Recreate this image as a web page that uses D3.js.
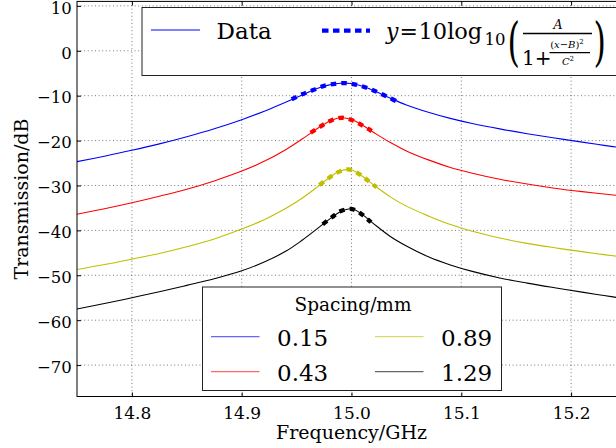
<!DOCTYPE html>
<html><head><meta charset="utf-8">
<script src="https://cdn.jsdelivr.net/npm/d3@7"></script>
<style>
body{margin:0;background:#fff}
svg{display:block}
text{font-family:"DejaVu Serif",serif;fill:#000}
</style>
</head><body>
<svg id="chart" width="616" height="448"></svg>
<script>
// ---------- data ----------
const freq = [14.75, 14.775, 14.80, 14.825, 14.85, 14.875, 14.90, 14.92, 14.94, 14.955, 14.97, 14.98, 14.99, 15.00, 15.01, 15.02, 15.035, 15.05, 15.07, 15.09, 15.11, 15.135, 15.16, 15.185, 15.21, 15.23, 15.25];
const s015 = [-24.7, -23.48, -22.17, -20.74, -19.15, -17.37, -15.34, -13.5, -11.45, -9.84, -8.3, -7.6, -7.24, -7.28, -7.91, -8.87, -10.53, -12.06, -13.67, -15.05, -16.2, -17.4, -18.46, -19.43, -20.34, -21.07, -21.75];
const s043 = [-36.4, -35.19, -33.85, -32.39, -30.82, -28.98, -26.8, -24.68, -22.02, -19.66, -17.14, -15.69, -14.92, -15.29, -16.6, -18.16, -20.39, -22.3, -24.3, -25.98, -27.26, -28.6, -29.67, -30.6, -31.37, -31.9, -32.4];
const s089 = [-48.7, -47.61, -46.4, -45.14, -43.65, -41.9, -39.7, -37.7, -35.14, -32.85, -30.13, -28.22, -26.74, -26.55, -27.96, -29.85, -32.48, -34.6, -36.78, -38.7, -40.19, -41.68, -42.9, -43.87, -44.74, -45.4, -46.01];
const s129 = [-57.5, -56.3, -55.0, -53.68, -52.25, -50.78, -49.0, -47.1, -44.67, -42.2, -39.4, -37.49, -35.84, -35.2, -36.5, -38.49, -41.29, -43.47, -45.88, -47.69, -49.13, -50.59, -51.74, -52.77, -53.75, -54.52, -55.24];

// Lorentzian fit curves (thick dotted), read over their plotted range
const fit015X = [14.9455, 14.955, 14.965, 14.975, 14.985, 14.995, 15.005, 15.015, 15.025, 15.034, 15.043];
const fit015Y = [-10.8, -9.7, -8.75, -7.8, -7.35, -7.22, -7.6, -8.35, -9.35, -10.4, -11.5];
const fit043X = [14.9628, 14.9713, 14.9804, 14.9904, 15.0002, 15.0093, 15.0184];
const fit043Y = [-18.26, -16.93, -15.66, -14.92, -15.43, -16.55, -17.88];
const fit089X = [14.9707, 14.9789, 14.9874, 14.9971, 15.0071, 15.0153, 15.023];
const fit089Y = [-29.9, -28.42, -27.08, -26.41, -27.46, -28.95, -30.42];
const fit129X = [14.9738, 14.982, 14.9904, 15.0007, 15.0102, 15.0178];
const fit129Y = [-38.66, -37.1, -35.7, -35.26, -36.59, -38.2];

const spacingLabels = ["0.15", "0.43", "0.89", "1.29"];
const seriesColors = ["#0000ff", "#ff0000", "#bfbf00", "#000000"];
const xTicks = [14.8, 14.9, 15.0, 15.1, 15.2];
const yTicks = [10, 0, -10, -20, -30, -40, -50, -60, -70];

// ---------- layout ----------
const svg = d3.select("#chart");
const L = 77, R = 626, T = 1.4, B = 396.5;
const x = d3.scaleLinear([14.75, 15.25], [L, R]);
const y = d3.scaleLinear([-77, 11], [B, T]);

svg.append("defs").append("clipPath").attr("id", "clip")
  .append("rect").attr("x", L).attr("y", T).attr("width", R - L).attr("height", B - T);

// grid
const grid = svg.append("g").attr("stroke", "#000").attr("stroke-width", 0.7)
  .attr("stroke-dasharray", "1,2.6").attr("opacity", 0.75);
grid.selectAll(".gx").data(xTicks).join("line")
  .attr("x1", d => x(d)).attr("x2", d => x(d)).attr("y1", T).attr("y2", B);
grid.selectAll(".gy").data(yTicks).join("line")
  .attr("x1", L).attr("x2", R).attr("y1", d => y(d)).attr("y2", d => y(d));

// curves
const dataSeries = [s015, s043, s089, s129];
const fits = [[fit015X, fit015Y], [fit043X, fit043Y], [fit089X, fit089Y], [fit129X, fit129Y]];
const line = d3.line().x(d => x(d[0])).y(d => y(d[1])).curve(d3.curveCatmullRom.alpha(0.5));
const plot = svg.append("g").attr("clip-path", "url(#clip)");
dataSeries.forEach((vals, i) => {
  plot.append("path").datum(freq.map((f, k) => [f, vals[k]]))
    .attr("d", line).attr("fill", "none").attr("stroke", seriesColors[i]).attr("stroke-width", 1.1);
});
fits.forEach(([fx, fy], i) => {
  plot.append("path").datum(fx.map((f, k) => [f, fy[k]]))
    .attr("d", line).attr("fill", "none").attr("stroke", seriesColors[i])
    .attr("stroke-width", 4.3).attr("stroke-dasharray", "5.5,5");
});

// axes (inward ticks)
const ax = svg.append("g").attr("class", "axes");
const yAxis = ax.append("g").attr("transform", `translate(${L},0)`)
  .call(d3.axisLeft(y).tickValues(yTicks).tickFormat(d3.format("d")).tickSize(-4).tickSizeOuter(0).tickPadding(5.3));
const xAxis = ax.append("g").attr("transform", `translate(0,${B})`)
  .call(d3.axisBottom(x).tickValues(xTicks).tickFormat(d3.format(".1f")).tickSize(-4).tickSizeOuter(0).tickPadding(10));
const xTop = ax.append("g").attr("transform", `translate(0,${T})`)
  .call(d3.axisTop(x).tickValues(xTicks).tickFormat("").tickSize(-4).tickSizeOuter(0));
[yAxis, xAxis, xTop].forEach(g => {
  g.selectAll(".domain").remove();
  g.selectAll("line").attr("stroke", "#000").attr("stroke-width", 1);
  g.selectAll("text").attr("font-family", "DejaVu Serif").attr("font-size", 17).attr("fill", "#000");
});
yAxis.selectAll("text").attr("font-size", 16.5).attr("dy", "0.44em");
// frame
svg.append("rect").attr("x", L).attr("y", T).attr("width", R - L).attr("height", B - T)
  .attr("fill", "none").attr("stroke", "#000").attr("stroke-width", 1);

// axis labels
svg.append("text").attr("x", 351.5).attr("y", 439).attr("text-anchor", "middle")
  .attr("font-size", 19).text("Frequency/GHz");
svg.append("text").attr("transform", "translate(28,199) rotate(-90)").attr("text-anchor", "middle")
  .attr("font-size", 19).text("Transmission/dB");

// ---------- top legend ----------
const lg1 = svg.append("g");
lg1.append("rect").attr("x", 142).attr("y", 7.5).attr("width", 500).attr("height", 68)
  .attr("fill", "#fff").attr("stroke", "#222").attr("stroke-width", 1);
lg1.append("line").attr("x1", 151).attr("x2", 200).attr("y1", 30).attr("y2", 30)
  .attr("stroke", seriesColors[0]).attr("stroke-width", 1.1);
lg1.append("text").attr("x", 216.5).attr("y", 39).attr("font-size", 23).text("Data");
lg1.append("line").attr("x1", 322).attr("x2", 370).attr("y1", 30.7).attr("y2", 30.7)
  .attr("stroke", seriesColors[0]).attr("stroke-width", 4.3).attr("stroke-dasharray", "6.5,4.5");
// formula  y = 10 log10( A / (1 + (x-B)^2 / C^2) )
const fm = lg1.append("g");
fm.append("text").attr("x", 386).attr("y", 39).attr("font-size", 22).attr("font-style", "italic").text("y");
fm.append("text").attr("x", 399.5).attr("y", 39).attr("font-size", 22).text("=");
fm.append("text").attr("x", 418.5).attr("y", 39).attr("font-size", 22.5).text("10log");
fm.append("text").attr("x", 484.5).attr("y", 45).attr("font-size", 16.5).text("10");
fm.append("text").attr("transform", "translate(507.5,60) scale(0.6,1)").attr("font-size", 53).text("(");
fm.append("text").attr("transform", "translate(593.5,60) scale(0.6,1)").attr("font-size", 53).text(")");
fm.append("text").attr("x", 558).attr("y", 29).attr("font-size", 12.5).attr("font-style", "italic")
  .attr("text-anchor", "middle").text("A");
fm.append("line").attr("x1", 523).attr("x2", 592).attr("y1", 33.5).attr("y2", 33.5)
  .attr("stroke", "#000").attr("stroke-width", 1.4);
fm.append("text").attr("x", 522).attr("y", 65).attr("font-size", 20).text("1+");
const num = fm.append("text").attr("x", 567).attr("y", 47.5).attr("font-size", 10).attr("text-anchor", "middle");
num.append("tspan").text("(");
num.append("tspan").attr("font-style", "italic").text("x");
num.append("tspan").text("−");
num.append("tspan").attr("font-style", "italic").text("B");
num.append("tspan").text(")");
num.append("tspan").attr("font-size", 7).attr("dy", -4).text("2");
fm.append("line").attr("x1", 549.5).attr("x2", 590).attr("y1", 52.7).attr("y2", 52.7)
  .attr("stroke", "#000").attr("stroke-width", 1.2);
const den = fm.append("text").attr("x", 568).attr("y", 65).attr("font-size", 10).attr("text-anchor", "middle");
den.append("tspan").attr("font-style", "italic").text("C");
den.append("tspan").attr("font-size", 7).attr("dy", -4).text("2");

// ---------- bottom legend ----------
const lg2 = svg.append("g");
lg2.append("rect").attr("x", 202.5).attr("y", 287).attr("width", 299).attr("height", 103.5)
  .attr("fill", "#fff").attr("stroke", "#222").attr("stroke-width", 1);
lg2.append("text").attr("x", 353).attr("y", 311).attr("text-anchor", "middle")
  .attr("font-size", 18.5).text("Spacing/mm");
const cols = [[211, 259.5, 277], [375, 423.5, 441]];
const rows = [[336.7, 345.7], [371.7, 380.5]];
spacingLabels.forEach((lab, i) => {
  const c = cols[Math.floor(i / 2)], r = rows[i % 2];
  lg2.append("line").attr("x1", c[0]).attr("x2", c[1]).attr("y1", r[0]).attr("y2", r[0])
    .attr("stroke", seriesColors[i]).attr("stroke-width", 1.3).attr("stroke-opacity", 0.6);
  lg2.append("text").attr("x", c[2]).attr("y", r[1]).attr("font-size", 23).text(lab);
});
</script>
</body></html>
